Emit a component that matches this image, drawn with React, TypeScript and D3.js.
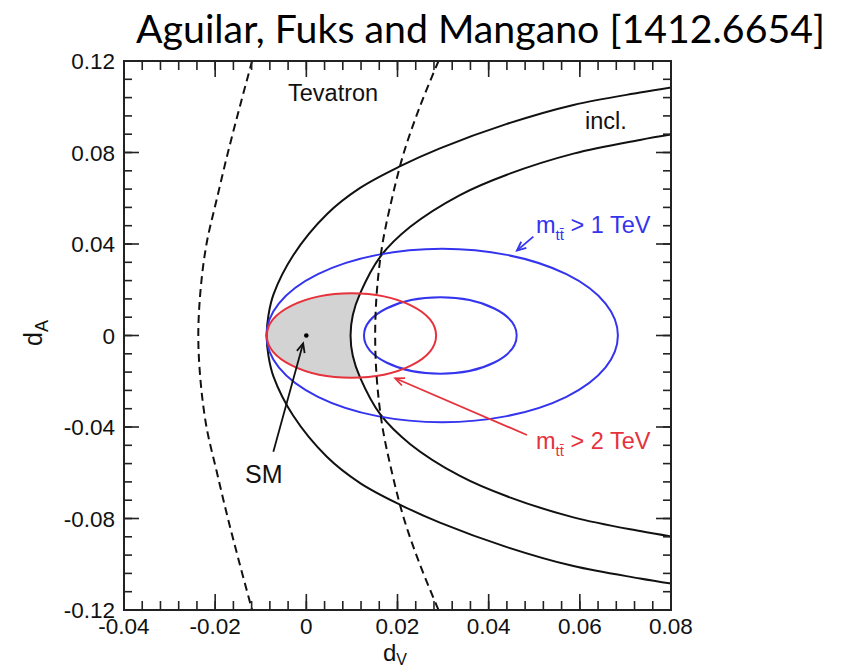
import React from 'react';
import * as d3 from 'd3';

const W = 843;
const H = 670;

// axis domains and ticks
const xDomain: [number, number] = [-0.04, 0.08];
const yDomain: [number, number] = [-0.12, 0.12];
const xMajor = [-0.04, -0.02, 0, 0.02, 0.04, 0.06, 0.08];
const xLabels = ['-0.04', '-0.02', '0', '0.02', '0.04', '0.06', '0.08'];
const yMajor = [-0.12, -0.08, -0.04, 0, 0.04, 0.08, 0.12];
const yLabels = ['-0.12', '-0.08', '-0.04', '0', '0.04', '0.08', '0.12'];
const xMinorStep = 0.004;
const yMinorStep = 0.008;

// inclusive cross-section band (black), outer boundary
const inclOuterDV = [0.0802, 0.0732, 0.0586, 0.044, 0.0293, 0.0206, 0.0118, 0.0045, -0.0029, -0.0072, -0.0083, -0.0087, -0.0083, -0.0072, -0.0029, 0.0045, 0.0118, 0.0206, 0.0293, 0.044, 0.0586, 0.0732, 0.0802];
const inclOuterDA = [-0.1085, -0.1062, -0.1008, -0.0925, -0.0818, -0.074, -0.0645, -0.053, -0.035, -0.018, -0.009, 0, 0.009, 0.018, 0.035, 0.053, 0.0645, 0.074, 0.0818, 0.0925, 0.1008, 0.1062, 0.1085];
// inner boundary
const inclInnerDV = [0.0802, 0.0732, 0.0586, 0.044, 0.0337, 0.0228, 0.0162, 0.0118, 0.0102, 0.0097, 0.0102, 0.0118, 0.0162, 0.0228, 0.0337, 0.044, 0.0586, 0.0732, 0.0802];
const inclInnerDA = [-0.0879, -0.0855, -0.0795, -0.0703, -0.0614, -0.0475, -0.0344, -0.0184, -0.009, 0, 0.009, 0.0184, 0.0344, 0.0475, 0.0614, 0.0703, 0.0795, 0.0855, 0.0879];

// Tevatron (dashed)
const tevDA = [0.12, 0.1, 0.08, 0.06, 0.04, 0.02, 0, -0.02, -0.04, -0.06, -0.08, -0.1, -0.12];
const tevLeftDV = [-0.0119, -0.0146, -0.0172, -0.0196, -0.0219, -0.0232, -0.0237, -0.0232, -0.0219, -0.0196, -0.0172, -0.0146, -0.0119];
const tevRightDV = [0.029, 0.0249, 0.0214, 0.0188, 0.0167, 0.0155, 0.0151, 0.0155, 0.0167, 0.0188, 0.0214, 0.0249, 0.029];

// high-mass ellipses
const ellName = ['mtt>1TeV outer', 'mtt>1TeV inner', 'mtt>2TeV'];
const ellCx = [0.0298, 0.0294, 0.0099];
const ellRx = [0.03855, 0.01675, 0.01857];
const ellRy = [0.0379, 0.0167, 0.0185];
const ellColor = ['#3434ee', '#3434ee', '#e6323c'];

const smPoint: [number, number] = [0, 0];

const FONT = '"Liberation Sans", Arial, Helvetica, sans-serif';

export default function App() {
  const x = d3.scaleLinear().domain(xDomain).range([124, 671]);
  const y = d3.scaleLinear().domain(yDomain).range([610, 61]);
  const line = d3
    .line<[number, number]>()
    .x((d) => x(d[0]))
    .y((d) => y(d[1]))
    .curve(d3.curveCatmullRom.alpha(0.5));

  const zip = (a: number[], b: number[]) => a.map((v, i) => [v, b[i]] as [number, number]);
  const outerPts = zip(inclOuterDV, inclOuterDA);
  const innerPts = zip(inclInnerDV, inclInnerDA);
  const tevLeft = zip(tevLeftDV, tevDA);
  const tevRight = zip(tevRightDV, tevDA);

  const innerPath = line(innerPts) || '';
  // region left of inner boundary (for gray overlap fill)
  const leftOfInner =
    innerPath +
    `L${x(0.085)},${y(0.2)}L${x(-0.06)},${y(0.2)}L${x(-0.06)},${y(-0.2)}L${x(0.085)},${y(-0.2)}Z`;

  const xMinor = d3.range(xDomain[0], xDomain[1] + 1e-9, xMinorStep);
  const yMinor = d3.range(yDomain[0], yDomain[1] + 1e-9, yMinorStep);
  const X0 = x(xDomain[0]);
  const X1 = x(xDomain[1]);
  const Y0 = y(yDomain[0]);
  const Y1 = y(yDomain[1]);

  const tickStroke = '#222';

  return (
    <svg
      width={W}
      height={H}
      style={{ position: 'absolute', left: 0, top: 0, background: '#fff' }}
      fontFamily={FONT}
    >
      <defs>
        <clipPath id="plotClip">
          <rect x={X0} y={Y1} width={X1 - X0} height={Y0 - Y1} />
        </clipPath>
        <clipPath id="leftInner">
          <path d={leftOfInner} />
        </clipPath>
        <marker id="arrK" viewBox="-12 -7 14 14" refX={0} refY={0} markerWidth={14} markerHeight={14} orient="auto" markerUnits="userSpaceOnUse">
          <path d="M-9,-4 L0,0 L-9,4" fill="none" stroke="#111" strokeWidth={1.8} />
        </marker>
        <marker id="arrB" viewBox="-12 -7 14 14" refX={0} refY={0} markerWidth={14} markerHeight={14} orient="auto" markerUnits="userSpaceOnUse">
          <path d="M-9,-4 L0,0 L-9,4" fill="none" stroke="#3434ee" strokeWidth={1.8} />
        </marker>
        <marker id="arrR" viewBox="-12 -7 14 14" refX={0} refY={0} markerWidth={14} markerHeight={14} orient="auto" markerUnits="userSpaceOnUse">
          <path d="M-9,-4 L0,0 L-9,4" fill="none" stroke="#e6323c" strokeWidth={1.8} />
        </marker>
      </defs>

      {/* title */}
      <text x={136} y={43} fontFamily='Lato, "Open Sans", sans-serif' fontSize={38} textLength={689} lengthAdjust="spacingAndGlyphs" fill="#000">
        Aguilar, Fuks and Mangano [1412.6654]
      </text>

      <g clipPath="url(#plotClip)">
        {/* gray overlap: inside 2 TeV ellipse and outside inner incl. boundary */}
        <g clipPath="url(#leftInner)">
          <ellipse cx={x(ellCx[2])} cy={y(0)} rx={x(ellCx[2] + ellRx[2]) - x(ellCx[2])} ry={y(0) - y(ellRy[2])} fill="#d3d3d3" />
        </g>

        <path d={line(outerPts) || ''} fill="none" stroke="#111" strokeWidth={2} />
        <path d={innerPath} fill="none" stroke="#111" strokeWidth={2} />

        {ellName.map((n, i) => (
          <ellipse
            key={n}
            cx={x(ellCx[i])}
            cy={y(0)}
            rx={x(ellCx[i] + ellRx[i]) - x(ellCx[i])}
            ry={y(0) - y(ellRy[i])}
            fill="none"
            stroke={ellColor[i]}
            strokeWidth={2}
          />
        ))}

        <path d={line(tevLeft) || ''} fill="none" stroke="#111" strokeWidth={2} strokeDasharray="8,5" />
        <path d={line(tevRight) || ''} fill="none" stroke="#111" strokeWidth={2} strokeDasharray="8,5" />

        <circle cx={x(smPoint[0])} cy={y(smPoint[1])} r={2.3} fill="#000" />
      </g>

      {/* annotations */}
      <line x1={x(-0.00724)} y1={y(-0.0508)} x2={x(-0.0007)} y2={y(-0.0034)} stroke="#111" strokeWidth={1.8} markerEnd="url(#arrK)" />
      <text x={245} y={483} fontSize={25} fill="#111">SM</text>

      <text x={288} y={101} fontSize={23.5} fill="#111">Tevatron</text>
      <text x={585} y={129} fontSize={23.5} fill="#111">incl.</text>

      <line x1={x(0.0498)} y1={y(0.0432)} x2={x(0.0462)} y2={y(0.0371)} stroke="#3434ee" strokeWidth={1.8} markerEnd="url(#arrB)" />
      <text x={536} y={233} fontSize={23.5} fill="#3434ee">
        m<tspan fontSize={15} dy={7}>tt̄</tspan><tspan dy={-7}> &gt; 1 TeV</tspan>
      </text>

      <line x1={x(0.0484)} y1={y(-0.0435)} x2={x(0.0195)} y2={y(-0.0187)} stroke="#e6323c" strokeWidth={1.8} markerEnd="url(#arrR)" />
      <text x={536} y={449} fontSize={23.5} fill="#e6323c">
        m<tspan fontSize={15} dy={7}>tt̄</tspan><tspan dy={-7}> &gt; 2 TeV</tspan>
      </text>

      {/* frame */}
      <rect x={X0} y={Y1} width={X1 - X0} height={Y0 - Y1} fill="none" stroke="#222" strokeWidth={2} />

      {/* ticks */}
      {xMinor.map((v, i) => (
        <g key={'xm' + i}>
          <line x1={x(v)} x2={x(v)} y1={Y0} y2={Y0 - 9} stroke={tickStroke} strokeWidth={1.6} />
          <line x1={x(v)} x2={x(v)} y1={Y1} y2={Y1 + 9} stroke={tickStroke} strokeWidth={1.6} />
        </g>
      ))}
      {xMajor.map((v, i) => (
        <g key={'xM' + i}>
          <line x1={x(v)} x2={x(v)} y1={Y0} y2={Y0 - 16} stroke={tickStroke} strokeWidth={1.6} />
          <line x1={x(v)} x2={x(v)} y1={Y1} y2={Y1 + 16} stroke={tickStroke} strokeWidth={1.6} />
          <text x={x(v)} y={634} fontSize={22.5} textAnchor="middle" fill="#111">{xLabels[i]}</text>
        </g>
      ))}
      {yMinor.map((v, i) => (
        <g key={'ym' + i}>
          <line x1={X0} x2={X0 + 8} y1={y(v)} y2={y(v)} stroke={tickStroke} strokeWidth={1.6} />
          <line x1={X1} x2={X1 - 8} y1={y(v)} y2={y(v)} stroke={tickStroke} strokeWidth={1.6} />
        </g>
      ))}
      {yMajor.map((v, i) => (
        <g key={'yM' + i}>
          <line x1={X0} x2={X0 + 15} y1={y(v)} y2={y(v)} stroke={tickStroke} strokeWidth={1.6} />
          <line x1={X1} x2={X1 - 15} y1={y(v)} y2={y(v)} stroke={tickStroke} strokeWidth={1.6} />
          <text x={115} y={y(v) + 8} fontSize={22.5} textAnchor="end" fill="#111">{yLabels[i]}</text>
        </g>
      ))}

      {/* axis titles */}
      <text x={383} y={661} fontSize={24} fill="#111">
        d<tspan fontSize={16} dy={4}>V</tspan>
      </text>
      <text transform="translate(42,346) rotate(-90)" fontSize={25} fill="#111">
        d<tspan fontSize={18} dy={6}>A</tspan>
      </text>
    </svg>
  );
}
